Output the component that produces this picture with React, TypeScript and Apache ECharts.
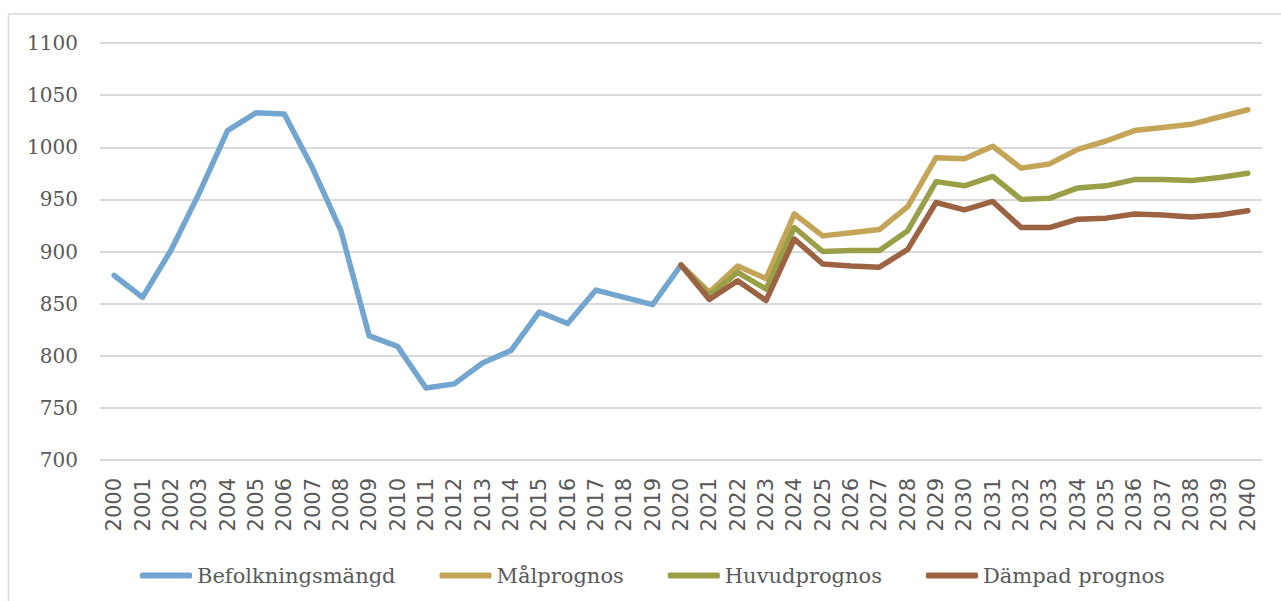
import React, { useEffect, useRef } from "react";
import * as echarts from "echarts";

const years: string[] = [];
for (let y = 2000; y <= 2040; y++) years.push(String(y));

const befolkning = [877, 856, 901, 956, 1016, 1033, 1032, 980, 920, 819, 809, 769, 773, 793, 805, 842, 831, 863, 856, 849, 887];
// forecasts 2020..2040
const malprognos = [887, 861, 886, 874, 936, 915, 918, 921, 943, 990, 989, 1001, 980, 984, 998, 1006, 1016, 1019, 1022, 1029, 1036];
const huvudprognos = [887, 858, 880, 864, 923, 900, 901, 901, 920, 967, 963, 972, 950, 951, 961, 963, 969, 969, 968, 971, 975];
const dampadprognos = [887, 854, 872, 853, 912, 888, 886, 885, 902, 947, 940, 948, 923, 923, 931, 932, 936, 935, 933, 935, 939];

const yTicks = { min: 700, max: 1100, interval: 50 };

const seriesNames = ["Befolkningsmängd", "Målprognos", "Huvudprognos", "Dämpad prognos"];
const colors = ["#72a5cf", "#c4a457", "#989f46", "#9c6343"];

const pad = (arr: number[], before: number) => [...Array(before).fill(null), ...arr];

export default function App() {
  const ref = useRef<HTMLDivElement>(null);
  useEffect(() => {
    if (!ref.current) return;
    const chart = echarts.init(ref.current, null, { renderer: "svg" });
    const offset = years.length - malprognos.length;
    const datasets = [
      befolkning,
      pad(malprognos, offset),
      pad(huvudprognos, offset),
      pad(dampadprognos, offset),
    ];
    chart.setOption({
      animation: false,
      backgroundColor: "#ffffff",
      graphic: [
        {
          type: "rect",
          shape: { x: 8.5, y: 14, width: 1400, height: 800 },
          style: { fill: "none", stroke: "#d9d9d9", lineWidth: 1.5 },
          silent: true,
        },
      ],
      grid: { left: 100, right: 19, top: 43, bottom: 141, containLabel: false },
      legend: {
        data: seriesNames,
        left: 135,
        top: 560,
        icon: "roundRect",
        itemWidth: 52,
        itemHeight: 6,
        itemGap: 44,
        textStyle: { fontFamily: "DejaVu Serif", fontSize: 21, color: "#595959" },
      },
      xAxis: {
        type: "category",
        data: years,
        boundaryGap: true,
        axisLine: { show: false },
        axisTick: { show: false },
        axisLabel: {
          rotate: 90,
          margin: 18,
          interval: 0,
          fontFamily: "DejaVu Sans",
          fontSize: 21,
          color: "#595959",
        },
      },
      yAxis: {
        type: "value",
        min: yTicks.min,
        max: yTicks.max,
        interval: yTicks.interval,
        axisLine: { show: false },
        axisTick: { show: false },
        axisLabel: {
          margin: 22,
          fontFamily: "DejaVu Serif",
          fontSize: 20,
          color: "#595959",
          formatter: (v: number) => String(v),
        },
        splitLine: { lineStyle: { color: "#d9d9d9", width: 2 } },
      },
      series: seriesNames.map((name, i) => ({
        name,
        type: "line",
        data: datasets[i],
        symbol: "none",
        connectNulls: false,
        lineStyle: { color: colors[i], width: 5.5, cap: "round", join: "round" },
        itemStyle: { color: colors[i] },
      })),
    });
    return () => chart.dispose();
  }, []);
  return (
    <div
      ref={ref}
      style={{ position: "fixed", left: 0, top: 0, width: 1281, height: 601 }}
    />
  );
}
